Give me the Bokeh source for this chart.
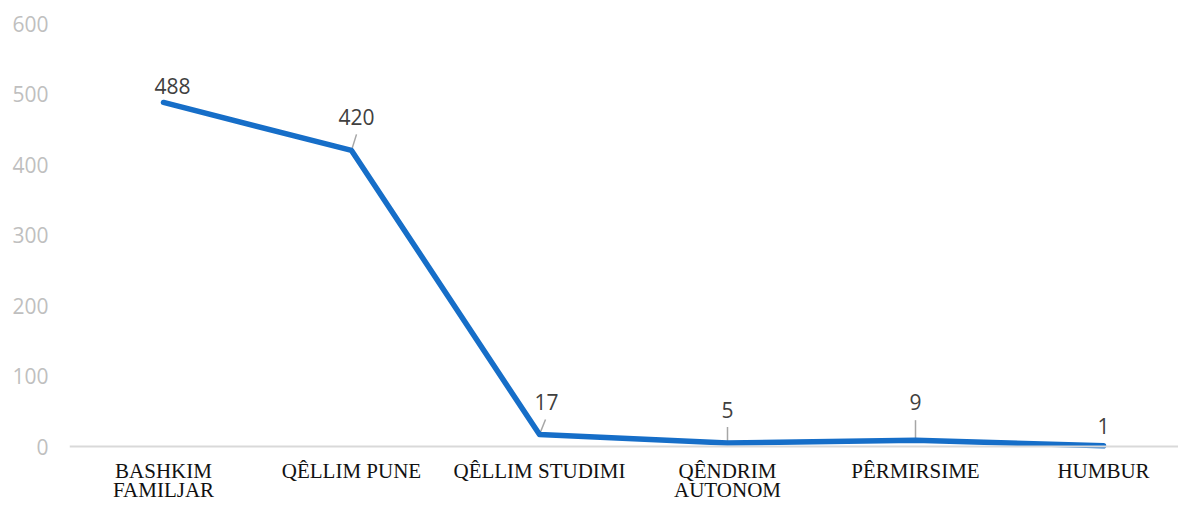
from bokeh.plotting import figure
from bokeh.models import Range1d, FixedTicker, ColumnDataSource, Span
from bokeh.core.properties import value
from bokeh.embed import file_html
from bokeh.resources import INLINE

categories = ["BASHKIM\nFAMILJAR", "QÊLLIM PUNE", "QÊLLIM STUDIMI", "QÊNDRIM\nAUTONOM", "PÊRMIRSIME", "HUMBUR"]
values = [488, 420, 17, 5, 9, 1]
y_ticks = [0, 100, 200, 300, 400, 500, 600]

# label placement (screen pixels, relative to each point; up is positive)
label_dx = [9, 5, 7, 0, 0, 0]
label_up = [16, 33, 33, 33, 38, 20]
# leader lines start (screen px, relative to point); None = no leader
leader_dx = [None, 5, 6, 0, 0, None]
leader_up = [None, 16, 15, 16, 20, None]

# geometry (pixels within the figure)
W, H = 1178, 500
left, top = 69, 23
zero_px = 446            # y pixel of value 0 inside the figure
band = 188.0             # pixels per category
y_max = 600
frame_w = W - left
px_per_unit = (zero_px - top) / y_max
y_min = -(H - zero_px) / px_per_unit
x0 = -0.5
x1 = x0 + frame_w / band

p = figure(width=W, height=H, output_backend="svg", toolbar_location=None,
           x_range=Range1d(x0, x1), y_range=Range1d(y_min, y_max),
           min_border_left=left, min_border_right=0,
           min_border_top=top, min_border_bottom=0)
p.outline_line_color = None
p.xgrid.grid_line_color = None
p.ygrid.grid_line_color = None
p.xaxis.visible = False

idx = list(range(len(categories)))

# y axis
p.yaxis.ticker = FixedTicker(ticks=y_ticks)
p.yaxis.axis_line_color = None
p.yaxis.major_tick_line_color = None
p.yaxis.minor_tick_line_color = None
p.yaxis.major_label_text_color = "#bfbfbf"
p.yaxis.major_label_text_font = "Open Sans"
p.yaxis.major_label_text_font_size = "21px"
p.yaxis.major_label_standoff = 15

# category axis line at zero
p.add_layout(Span(location=0, dimension="width", line_color="#d9d9d9", line_width=2))

px_x = 1.0 / band
px_y = 1.0 / px_per_unit

# category labels (split into lines, drawn under the zero line)
first_base = 24   # px below zero line (anchor of first text line)
line_gap = 19
lx, ly, lt = [], [], []
for i, c in enumerate(categories):
    for k, part in enumerate(c.split("\n")):
        lx.append(i)
        ly.append(-(first_base + k * line_gap) * px_y)
        lt.append(part)
p.text(x=lx, y=ly, text=lt, text_align="center", text_baseline="alphabetic",
       text_color="#111111", text_font=value("Liberation Serif"), text_font_size="21px")

# leader lines
sx0, sy0, sx1, sy1 = [], [], [], []
for i, v in enumerate(values):
    if leader_dx[i] is None:
        continue
    sx0.append(i + leader_dx[i] * px_x)
    sy0.append(v + leader_up[i] * px_y)
    sx1.append(i)
    sy1.append(v)
p.segment(x0=sx0, y0=sy0, x1=sx1, y1=sy1, line_color="#a6a6a6", line_width=1.5)

# main line
p.line(idx, values, line_color="#166ec8", line_width=5.5, line_cap="round", line_join="round")

# data labels
src = ColumnDataSource(dict(
    x=[i + dx * px_x for i, dx in enumerate(label_dx)],
    y=[v + up * px_y for v, up in zip(values, label_up)],
    t=[str(v) for v in values],
))
p.text(x="x", y="y", text="t", source=src, text_align="center", text_baseline="middle",
       text_color="#404040", text_font=value("Open Sans"), text_font_size="21px")

open("out.html", "w").write(file_html(p, INLINE))
